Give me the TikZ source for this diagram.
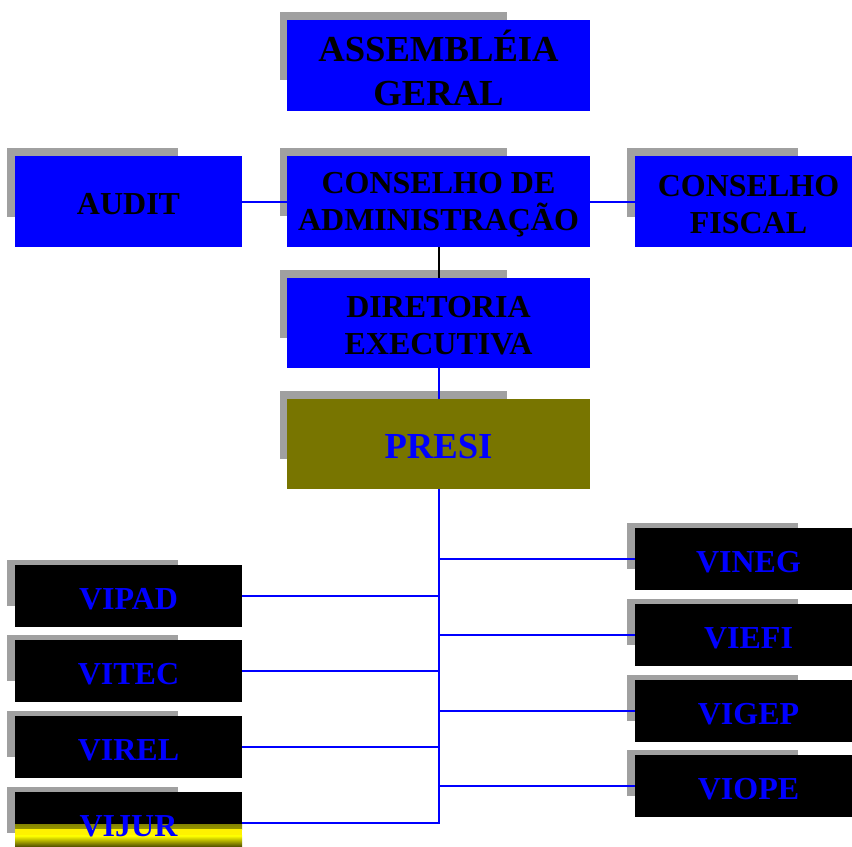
\documentclass[tikz,border=0pt]{standalone}
\usepackage{fontspec}
\setmainfont{Liberation Serif}
\usetikzlibrary{backgrounds,calc}
\definecolor{pblue}{RGB}{0,0,255}
\definecolor{pgray}{RGB}{160,160,160}
\definecolor{polive}{RGB}{120,117,0}
\definecolor{pdark}{RGB}{90,88,0}
\begin{document}
\begin{tikzpicture}[x=0.75pt,y=-0.75pt,
  basebox/.style={rectangle,inner sep=0pt},
  txtstyle/.style={inner sep=0pt,align=center,yshift=-2.2pt,font=\bfseries\fontsize{24}{28}\selectfont},
  bigtxt/.style={txtstyle,font=\bfseries\fontsize{27.5}{33}\selectfont},
  ktxt/.style={label={[txtstyle,text=black]center:{#1}}},
  btxt/.style={label={[txtstyle,text=pblue]center:{#1}}},
  kbigtxt/.style={label={[bigtxt,text=black]center:{#1}}},
  bbigtxt/.style={label={[bigtxt,text=pblue]center:{#1}}},
  bigbox/.style={basebox,fill=pblue,minimum width=227.25pt,minimum height=68.25pt},
  midbox/.style={basebox,fill=pblue,minimum width=170.25pt,minimum height=68.25pt},
  vbox/.style={basebox,fill=black,minimum width=170.25pt,minimum height=46.5pt},
  shadowfill/.style={fill=pgray},
  conn/.style={draw=pblue,line width=1.5pt},
  connk/.style={draw=black,line width=1.5pt}]
\useasboundingbox (0,0) rectangle (852,846);
\clip (0,0) rectangle (852,846);

% top boxes
\node[bigbox,kbigtxt={ASSEMBLÉIA\\GERAL}] (ag) at (438.5,65.5) {};
\node[bigbox,ktxt={CONSELHO DE\\ADMINISTRAÇÃO}] (ca) at (438.5,201.5) {};
\node[midbox,ktxt={AUDIT}] (aud) at (128.5,201.5) {};
\node[midbox,ktxt={CONSELHO\\FISCAL}] (cf) at (748.5,201.5) {};
\node[bigbox,minimum height=67.5pt,ktxt={DIRETORIA\\EXECUTIVA}] (de) at (438.5,323) {};
\node[bigbox,fill=polive,minimum height=67.5pt,bbigtxt={PRESI}] (presi) at (438.5,444) {};

% left column
\node[vbox,btxt={VIPAD}] (vipad) at (128.5,596) {};
\node[vbox,btxt={VITEC}] (vitec) at (128.5,671) {};
\node[vbox,btxt={VIREL}] (virel) at (128.5,747) {};
\node[vbox,btxt={VIJUR},path picture={
  \shade[top color=black,bottom color=yellow]
    ($(path picture bounding box.south west)+(0,-30)$) rectangle ($(path picture bounding box.south east)+(0,-25)$);
  \fill[yellow] ($(path picture bounding box.south west)+(0,-25.2)$) rectangle ($(path picture bounding box.south east)+(0,-18)$);
  \shade[top color=yellow,bottom color=pdark]
    ($(path picture bounding box.south west)+(0,-18.2)$) rectangle ($(path picture bounding box.south east)+(0,-8)$);
  \fill[pdark] ($(path picture bounding box.south west)+(0,-8.2)$) rectangle (path picture bounding box.south east);
  }] (vijur) at (128.5,823) {};

% right column
\node[vbox,btxt={VINEG}] (vineg) at (748.5,559) {};
\node[vbox,btxt={VIEFI}] (viefi) at (748.5,635) {};
\node[vbox,btxt={VIGEP}] (vigep) at (748.5,711) {};
\node[vbox,btxt={VIOPE}] (viope) at (748.5,786) {};

% shadows
\begin{scope}[on background layer]
  \foreach \n in {ag,ca,de,presi}
    \fill[shadowfill] ($(\n.north west)+(-7,-8)$) rectangle +(227,68);
  \foreach \n in {aud,cf}
    \fill[shadowfill] ($(\n.north west)+(-8,-8)$) rectangle +(171,69);
  \foreach \n in {vipad,vitec,virel,vijur,vineg,viefi,vigep,viope}
    \fill[shadowfill] ($(\n.north west)+(-8,-5)$) rectangle +(171,46);
\end{scope}

% connectors
\draw[conn] (aud.east) -- (ca.west);
\draw[conn] (ca.east) -- (cf.west);
\draw[connk] (ca.south) -- (de.north);
\draw[conn] (de.south) -- (presi.north);
\draw[conn] (presi.south) |- (vijur.east);
\foreach \n in {vipad,vitec,virel}
  \draw[conn] (\n.east) -- (\n.east -| presi.south);
\foreach \n in {vineg,viefi,vigep,viope}
  \draw[conn] (\n.west -| presi.south) -- (\n.west);
\end{tikzpicture}
\end{document}
